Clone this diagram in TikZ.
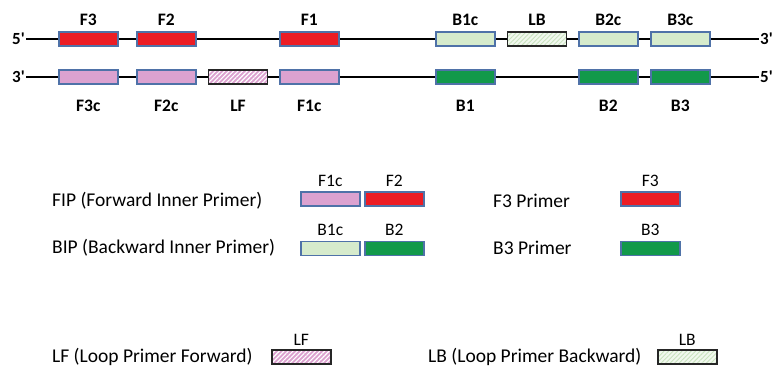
\documentclass[tikz,border=0pt]{standalone}
\usepackage{fontspec}
\setmainfont{Carlito}
\usetikzlibrary{patterns.meta}
\definecolor{fred}{HTML}{EC1C24}
\definecolor{fpink}{HTML}{DCA2D0}
\definecolor{bpale}{HTML}{D6EBCC}
\definecolor{bgreen}{HTML}{12994A}
\definecolor{edgeblue}{HTML}{4F72A8}
\definecolor{hatchpale}{HTML}{F1F8EE}
\definecolor{hatchgreen}{HTML}{C9E3BE}
\tikzset{
  seg/.style={draw=edgeblue, line width=1.6pt, minimum width=59pt, minimum height=14pt,
    inner sep=0pt, anchor=west},
  redseg/.style={seg, fill=fred},
  pinkseg/.style={seg, fill=fpink},
  paleseg/.style={seg, fill=bpale},
  greenseg/.style={seg, fill=bgreen},
  lfseg/.style={seg, draw=black!85, preaction={fill=fpink},
    pattern={Lines[angle=45, distance=3.2pt, line width=1.1pt]}, pattern color=white},
  lbseg/.style={seg, draw=black!85, preaction={fill=hatchpale},
    pattern={Lines[angle=45, distance=3.2pt, line width=0.9pt]}, pattern color=hatchgreen},
  strand/.style={line width=2.6pt, black},
  endlbl/.style={font=\fontsize{17}{19}\selectfont\bfseries, inner sep=1pt},
  toplbl/.style={font=\fontsize{17.5}{20}\selectfont\bfseries, inner sep=0pt},
  keylbl/.style={font=\fontsize{17.5}{20}\selectfont, inner sep=0pt},
  keytxt/.style={font=\fontsize{19.5}{22}\selectfont, inner sep=0pt, anchor=west},
}
\begin{document}
\begin{tikzpicture}[x=1pt, y=-1pt]
\useasboundingbox (0,0) rectangle (780,368);

% strand ends
\node[endlbl, anchor=east] (t5) at (26,39) {5\textquotesingle};
\node[endlbl, anchor=west] (t3) at (759,39) {3\textquotesingle};
\node[endlbl, anchor=east] (b3) at (26,77) {3\textquotesingle};
\node[endlbl, anchor=west] (b5) at (759,77) {5\textquotesingle};
\draw[strand] (t5.east) -- (t3.west);
\draw[strand] (b3.east) -- (b5.west);

% upper strand segments
\node[redseg] (F3) at (58,39) {};
\node[redseg] (F2) at (136,39) {};
\node[redseg] (F1) at (279,39) {};
\node[paleseg] (B1c) at (435,39) {};
\node[lbseg] (LB) at (507,39) {};
\node[paleseg] (B2c) at (578,39) {};
\node[paleseg] (B3c) at (650,39) {};

% lower strand segments
\node[pinkseg] (F3c) at (58,77) {};
\node[pinkseg] (F2c) at (136,77) {};
\node[lfseg] (LF) at (208,77) {};
\node[pinkseg] (F1c) at (279,77) {};
\node[greenseg] (B1) at (435,77) {};
\node[greenseg] (B2) at (578,77) {};
\node[greenseg] (B3) at (650,77) {};

% segment names
\foreach \s in {F3,F2,F1,B1c,LB,B2c,B3c}
  \node[toplbl] (n\s) at (\s.center |- 0,20) {\s};
\foreach \s in {F3c,F2c,LF,F1c,B1,B2,B3}
  \node[toplbl] (n\s) at (\s.center |- 0,106) {\s};

% primer key
\node[keytxt] (fip) at (52,201) {FIP (Forward Inner Primer)};
\node[pinkseg] (kF1c) at (300,199) {};
\node[redseg] (kF2) at (364,199) {};
\node[keylbl] (lkF1c) at (kF1c.center |- 0,181) {F1c};
\node[keylbl] (lkF2) at (kF2.center |- 0,181) {F2};

\node[keytxt] (bip) at (52,248) {BIP (Backward Inner Primer)};
\node[paleseg] (kB1c) at (300,248.5) {};
\node[greenseg] (kB2) at (364,248.5) {};
\node[keylbl] (lkB1c) at (kB1c.center |- 0,230) {B1c};
\node[keylbl] (lkB2) at (kB2.center |- 0,230) {B2};

\node[keytxt] (f3p) at (493,201) {F3 Primer};
\node[redseg] (kF3) at (620,199) {};
\node[keylbl] (lkF3) at (kF3.center |- 0,181) {F3};

\node[keytxt] (b3p) at (493,248) {B3 Primer};
\node[greenseg] (kB3) at (620,248.5) {};
\node[keylbl] (lkB3) at (kB3.center |- 0,230) {B3};

\node[keytxt] (lfp) at (52,357) {LF (Loop Primer Forward)};
\node[lfseg] (kLF) at (271,357) {};
\node[keylbl] (lkLF) at (kLF.center |- 0,340) {LF};

\node[keytxt] (lbp) at (428,357) {LB (Loop Primer Backward)};
\node[lbseg] (kLB) at (657,357) {};
\node[keylbl] (lkLB) at (kLB.center |- 0,340) {LB};
\end{tikzpicture}
\end{document}
